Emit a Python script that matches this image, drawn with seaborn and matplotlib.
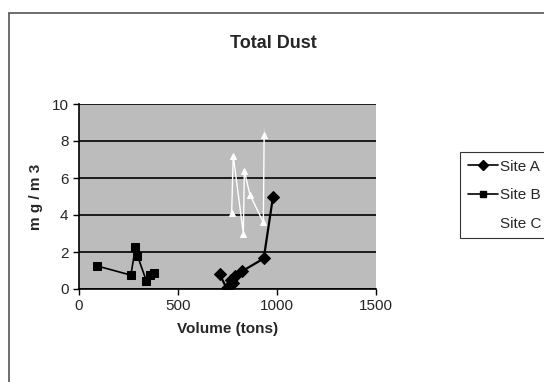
import pandas as pd
import matplotlib
matplotlib.use('Agg')
import matplotlib.pyplot as plt
import seaborn as sns
from matplotlib.lines import Line2D
from matplotlib import font_manager

# values
site_a_x = [710, 745, 770, 780, 790, 822, 933, 980]
site_a_y = [0.8, 0.05, 0.5, 0.3, 0.7, 0.95, 1.65, 5.0]

site_b_x = [90, 262, 285, 295, 340, 360, 380]
site_b_y = [1.25, 0.75, 2.25, 1.8, 0.45, 0.75, 0.85]

site_c_x = [771, 779, 830, 835, 863, 931, 935, 935]
site_c_y = [4.1, 7.2, 3.0, 6.4, 5.1, 3.6, 7.9, 8.7]

x_ticks = [0, 500, 1000, 1500]
y_ticks = [0, 2, 4, 6, 8, 10]

df_a = pd.DataFrame({'x': site_a_x, 'y': site_a_y})
df_b = pd.DataFrame({'x': site_b_x, 'y': site_b_y})
df_c = pd.DataFrame({'x': site_c_x, 'y': site_c_y})

sns.set_style('white')
plt.rcParams['font.family'] = ['Liberation Sans', 'DejaVu Sans']

# narrow face for the legend if it is there
installed = {f.name for f in font_manager.fontManager.ttflist}
narrow = 'Liberation Sans Narrow' if 'Liberation Sans Narrow' in installed else 'Liberation Sans'

fig = plt.figure(figsize=(5.44, 3.82), dpi=100)
ax = fig.add_axes([79 / 544, 1 - 289 / 382, 297 / 544, 185 / 382])
ax.set_facecolor('#bcbcbc')

sns.lineplot(data=df_a, x='x', y='y', sort=False, ax=ax, color='black',
             lw=1.6, marker='D', markersize=6, markeredgecolor='black')
sns.lineplot(data=df_b, x='x', y='y', sort=False, ax=ax, color='black',
             lw=1.2, marker='s', markersize=6, markeredgecolor='black')
sns.lineplot(data=df_c, x='x', y='y', sort=False, ax=ax, color='white',
             lw=1.0, marker='^', markersize=5, markeredgecolor='white')

ax.set_xlim(0, 1500)
ax.set_ylim(0, 10)
ax.set_xticks(x_ticks)
ax.set_yticks(y_ticks)
ax.yaxis.grid(True, color='black', lw=1.2)
ax.xaxis.grid(False)
ax.set_axisbelow(True)
for s in ['top', 'right']:
    ax.spines[s].set_visible(False)
for s in ['left', 'bottom']:
    ax.spines[s].set_color('black')
    ax.spines[s].set_linewidth(1.2)
ax.tick_params(axis='both', direction='out', length=4, width=1, color='black',
               labelsize=11, left=True, bottom=True)

ax.set_xlabel('Volume (tons)', fontsize=11, fontweight='bold', labelpad=6)
ax.set_ylabel('m g / m 3', fontsize=11, fontweight='bold', labelpad=6)

fig.text(273 / 544, 1 - 43 / 382, 'Total Dust', ha='center', va='center',
         fontsize=13, fontweight='bold')

handles = [
    Line2D([], [], color='black', marker='D', markersize=5, lw=1.2),
    Line2D([], [], color='black', marker='s', markersize=5, lw=1.2),
    Line2D([], [], color='white', marker='^', markersize=5, lw=1.0),
]
leg = fig.legend(handles, ['Site A', 'Site B', 'Site C'],
                 loc='upper left', bbox_to_anchor=(460 / 544, 1 - 152 / 382),
                 frameon=True, fancybox=False, handlelength=2.0,
                 handletextpad=0.15, labelspacing=0.95, borderpad=0.5,
                 borderaxespad=0, prop={'family': narrow, 'size': 11})
leg.get_frame().set_edgecolor('black')
leg.get_frame().set_linewidth(0.8)

# outer chart frame (top and left visible in the reference)
fig.add_artist(Line2D([9 / 544, 1.0], [1 - 13 / 382, 1 - 13 / 382],
                      color='#555555', lw=1.2, transform=fig.transFigure))
fig.add_artist(Line2D([9 / 544, 9 / 544], [0.0, 1 - 13 / 382],
                      color='#555555', lw=1.2, transform=fig.transFigure))

fig.savefig('out.png', dpi=100)
